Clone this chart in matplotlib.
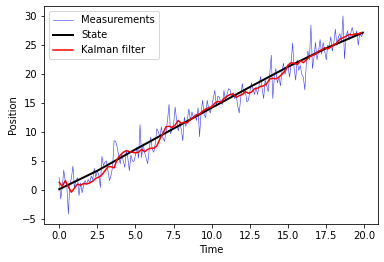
import numpy as np
import matplotlib
matplotlib.use("Agg")
import matplotlib.pyplot as plt

# measurements, dt = 0.1
meas = [
    2.1, -1.6, 0.5, 3.4, 1.5, 0.8, -4.2, 1.0, 2.0, 4.1,
    0.4, 1.5, 2.1, -1.0, 1.2, -0.5, 0.8, 1.6, 1.0, 1.8,
    1.2, 2.4, 1.8, 3.7, 2.2, 3.3, 2.5, 0.4, 5.8, 4.2,
    4.8, 5.0, 3.2, 1.6, 2.5, 4.0, 8.5, 8.4, 7.4, 6.0,
    4.5, 6.2, 5.0, 3.9, 6.8, 5.5, 3.3, 6.0, 5.0, 4.9,
    6.0, 7.4, 5.5, 11.3, 5.6, 8.0, 6.5, 5.5, 4.5, 7.0,
    9.1, 7.0, 6.5, 8.0, 10.6, 10.0, 9.2, 10.9, 9.0, 8.4,
    10.0, 12.0, 14.8, 9.7, 10.5, 11.4, 14.3, 12.0, 10.2, 11.5,
    10.5, 8.5, 12.6, 11.0, 12.2, 14.0, 12.0, 13.5, 12.5, 13.0,
    12.0, 14.2, 9.2, 13.4, 15.5, 13.0, 12.5, 15.5, 14.0, 13.3,
    14.5, 15.8, 17.2, 14.5, 16.2, 16.0, 15.0, 14.8, 17.2, 15.5,
    16.5, 17.5, 17.3, 16.0, 16.8, 15.8, 16.5, 14.5, 13.3, 16.0,
    18.4, 16.5, 17.2, 15.2, 15.5, 17.0, 18.5, 17.5, 16.5, 17.8,
    16.5, 18.0, 19.6, 17.5, 15.8, 19.0, 18.0, 17.0, 20.0, 23.3,
    15.8, 19.5, 21.0, 18.5, 19.5, 18.0, 20.5, 21.9, 20.0, 21.0,
    21.3, 19.5, 22.0, 25.4, 21.0, 19.0, 22.5, 20.7, 21.5, 20.0,
    19.5, 17.3, 22.0, 24.0, 22.5, 28.5, 21.0, 23.0, 25.5, 22.5,
    24.0, 26.0, 23.5, 25.5, 24.0, 22.5, 25.0, 24.8, 26.5, 24.0,
    25.5, 27.8, 25.0, 26.5, 27.0, 25.5, 30.1, 22.7, 26.5, 27.5,
    26.0, 27.0, 28.1, 27.0, 26.5, 27.5, 25.0, 27.2, 26.5, 27.0,
]
t_meas = np.arange(len(meas)) * 0.1

# true state
t_state = [0.0, 2.5, 5.0, 7.5, 10.0, 12.5, 15.0, 17.5, 19.9]
state = [0.1, 3.3, 7.0, 10.6, 14.2, 17.8, 21.3, 24.5, 27.2]

# kalman estimate, dt = 0.2
kalman = [
    1.3, 0.6, 1.6, 0.5, -0.4, 0.3, 1.0, 0.8, 1.1, 1.0,
    1.2, 1.5, 2.0, 2.2, 2.6, 3.3, 4.0, 4.0, 3.8, 5.3,
    6.0, 6.5, 6.8, 6.6, 6.5, 6.4, 6.5, 7.0, 6.6, 7.0,
    7.2, 7.2, 7.6, 8.8, 9.8, 10.9, 11.0, 10.8, 11.2, 12.0,
    11.5, 11.7, 11.6, 12.2, 12.5, 13.0, 13.1, 13.6, 14.0, 14.2,
    14.4, 15.0, 15.3, 15.2, 15.8, 16.2, 16.5, 16.6, 16.0, 16.3,
    16.5, 17.0, 16.7, 16.9, 17.5, 17.6, 17.9, 18.0, 18.4, 19.2,
    19.3, 19.2, 19.5, 20.0, 20.6, 21.6, 22.0, 21.9, 21.7, 22.3,
    22.0, 22.5, 23.0, 23.3, 23.5, 24.0, 24.2, 24.6, 24.4, 24.7,
    25.1, 25.4, 26.1, 26.3, 26.6, 26.9, 26.8, 27.0, 27.0, 27.2,
]
t_kalman = np.arange(len(kalman)) * 0.2

fig = plt.figure(figsize=(384/72., 262/72.), dpi=72)
fig.subplots_adjust(left=44/384., right=378/384., bottom=38/262., top=256/262.)
plt.plot(t_meas, meas, color="b", lw=0.6, alpha=0.75, label="Measurements")
plt.plot(t_state, state, color="k", lw=2, label="State")
plt.plot(t_kalman, kalman, color="r", lw=1.5, label="Kalman filter")
plt.xlabel("Time")
plt.ylabel("Position")
plt.legend(loc="upper left")

plt.savefig("out.png", dpi=72)
